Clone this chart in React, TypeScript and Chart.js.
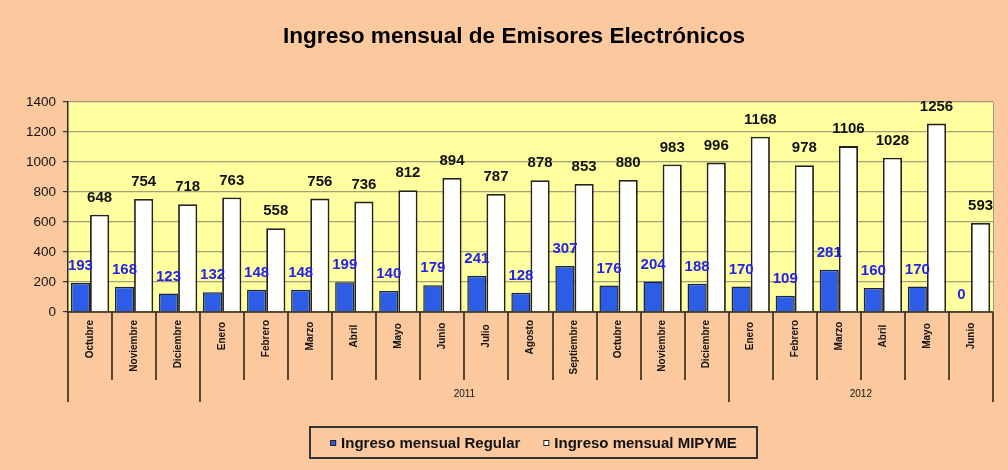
import { useEffect, useRef } from 'react';
import { Chart, registerables } from 'chart.js';

Chart.register(...registerables);

const months = [
  'Octubre', 'Noviembre', 'Diciembre',
  'Enero', 'Febrero', 'Marzo', 'Abril', 'Mayo', 'Junio', 'Julio', 'Agosto', 'Septiembre', 'Octubre', 'Noviembre', 'Diciembre',
  'Enero', 'Febrero', 'Marzo', 'Abril', 'Mayo', 'Junio',
];
const yearLabels = ['', '2011', '2012'];
const yearSpans = [3, 12, 6];
const regular = [193, 168, 123, 132, 148, 148, 199, 140, 179, 241, 128, 307, 176, 204, 188, 170, 109, 281, 160, 170, 0];
const mipyme = [648, 754, 718, 763, 558, 756, 736, 812, 894, 787, 878, 853, 880, 983, 996, 1168, 978, 1106, 1028, 1256, 593];
const seriesNames = ['Ingreso mensual Regular', 'Ingreso mensual MIPYME'];
const titleText = 'Ingreso mensual de Emisores Electrónicos';

const FONT = '"Liberation Sans", Arial, Helvetica, sans-serif';
const BG = '#FBC99D';
const PLOT = '#FFFF9F';
const BLUE = '#2D5DE6';
const LINE = '#2a2a1a';

const decor = {
  id: 'decor',
  beforeDraw(chart: any) {
    const { ctx, chartArea: a } = chart;
    ctx.save();
    ctx.fillStyle = BG;
    ctx.fillRect(0, 0, chart.width, chart.height);
    ctx.fillStyle = PLOT;
    ctx.fillRect(a.left, a.top, a.right - a.left, a.bottom - a.top);
    // title
    ctx.font = `bold 22.6px ${FONT}`;
    ctx.fillStyle = '#000';
    ctx.textAlign = 'center';
    ctx.textBaseline = 'middle';
    ctx.fillText(titleText, 514, 37);
    ctx.restore();
  },
  afterDatasetsDraw(chart: any) {
    const ctx = chart.ctx;
    ctx.save();
    ctx.textAlign = 'center';
    ctx.textBaseline = 'middle';
    chart.data.datasets.forEach((ds: any, di: number) => {
      const meta = chart.getDatasetMeta(di);
      ctx.font = `bold 15px ${FONT}`;
      ctx.fillStyle = di === 0 ? '#2424E6' : '#111111';
      meta.data.forEach((el: any, i: number) => {
        ctx.fillText(String(ds.data[i]), el.x, el.y - 17);
      });
    });
    ctx.restore();
  },
  afterDraw(chart: any) {
    const { ctx, chartArea: a } = chart;
    const xs = chart.scales.x;
    const n = chart.data.labels.length;
    ctx.save();
    // plot right border
    ctx.strokeStyle = '#9a9a80';
    ctx.lineWidth = 1;
    ctx.beginPath();
    ctx.moveTo(a.right + 0.5, a.top);
    ctx.lineTo(a.right + 0.5, a.bottom);
    ctx.stroke();
    // x axis line
    ctx.strokeStyle = LINE;
    ctx.lineWidth = 1.5;
    ctx.beginPath();
    ctx.moveTo(a.left, a.bottom);
    ctx.lineTo(a.right, a.bottom);
    ctx.stroke();

    // group boundaries
    const groupIdx: number[] = [0];
    yearSpans.forEach((s) => groupIdx.push(groupIdx[groupIdx.length - 1] + s));

    // separators
    ctx.lineWidth = 1.6;
    for (let k = 0; k <= n; k++) {
      const x = Math.round(xs.getPixelForValue(k - 0.5));
      const isGroup = groupIdx.includes(k);
      ctx.beginPath();
      ctx.moveTo(x, a.bottom);
      ctx.lineTo(x, isGroup ? 402 : 380);
      ctx.stroke();
    }

    // month labels (rotated)
    ctx.font = `bold 10px ${FONT}`;
    ctx.fillStyle = '#111';
    ctx.textAlign = 'center';
    ctx.textBaseline = 'middle';
    chart.data.labels.forEach((lab: string, i: number) => {
      const x = xs.getPixelForValue(i);
      const w = ctx.measureText(lab).width;
      const top = Math.max(320, 336 - w / 2);
      const cy = top + w / 2;
      ctx.save();
      ctx.translate(x, cy);
      ctx.rotate(-Math.PI / 2);
      ctx.fillText(lab, 0, 0);
      ctx.restore();
    });

    // year labels
    ctx.font = `10px ${FONT}`;
    yearLabels.forEach((lab, gi) => {
      if (!lab) return;
      const x0 = xs.getPixelForValue(groupIdx[gi] - 0.5);
      const x1 = xs.getPixelForValue(groupIdx[gi + 1] - 0.5);
      ctx.fillText(lab, (x0 + x1) / 2, 394);
    });

    // legend
    const bx = 310, by = 427, bw = 447, bh = 31;
    ctx.strokeStyle = '#333';
    ctx.lineWidth = 2;
    ctx.strokeRect(bx, by, bw, bh);
    ctx.font = `bold 15px ${FONT}`;
    const sq = 6, g1 = 5, g2 = 23;
    const widths = seriesNames.map((s) => ctx.measureText(s).width);
    const total = widths.reduce((p, w) => p + sq + g1 + w, 0) + g2;
    let x = bx + (bw - total) / 2;
    const cy = 443;
    const fills = [BLUE, '#ffffff'];
    seriesNames.forEach((s, i) => {
      ctx.fillStyle = fills[i];
      ctx.fillRect(x, cy - 3, sq, sq);
      ctx.strokeStyle = '#222';
      ctx.lineWidth = 1;
      ctx.strokeRect(x + 0.5, cy - 2.5, sq - 1, sq - 1);
      x += sq + g1;
      ctx.fillStyle = '#111';
      ctx.textAlign = 'left';
      ctx.fillText(s, x, cy + 1);
      x += widths[i] + g2;
    });
    ctx.restore();
  },
};

export default function App() {
  const ref = useRef<HTMLCanvasElement | null>(null);
  useEffect(() => {
    document.body.style.margin = '0';
    const canvas = ref.current;
    if (!canvas) return;
    const chart = new Chart(canvas, {
      type: 'bar',
      data: {
        labels: months,
        datasets: [
          {
            label: seriesNames[0],
            data: regular,
            backgroundColor: BLUE,
            borderColor: '#1c2440',
            borderWidth: 1.5,
            categoryPercentage: 0.87,
            barPercentage: 1.0,
          },
          {
            label: seriesNames[1],
            data: mipyme,
            backgroundColor: '#ffffff',
            borderColor: '#222222',
            borderWidth: 1.8,
            categoryPercentage: 0.87,
            barPercentage: 1.0,
          },
        ],
      },
      options: {
        responsive: false,
        animation: false,
        layout: { padding: { left: 0, right: 15, top: 102, bottom: 0 } },
        plugins: {
          title: { display: false, text: titleText },
          legend: { display: false },
          tooltip: { enabled: false },
        },
        scales: {
          x: {
            ticks: { display: false },
            grid: { display: false },
            border: { display: false },
            afterFit: (s: any) => { s.height = 158; },
          },
          y: {
            min: 0,
            max: 1400,
            ticks: {
              stepSize: 200,
              color: '#111',
              font: { family: FONT, size: 13.5 },
              padding: 7,
              callback: (v: any) => String(v),
            },
            grid: {
              color: 'rgba(130,130,105,0.75)',
              lineWidth: 1.2,
              tickLength: 5,
              tickColor: '#333',
            },
            border: { display: true, color: LINE, width: 1.5 },
            afterFit: (s: any) => { s.width = 68; },
          },
        },
      },
      plugins: [decor],
    });
    return () => chart.destroy();
  }, []);
  return (
    <div style={{ width: 1008, height: 470 }}>
      <canvas ref={ref} width={1008} height={470} style={{ display: 'block' }} />
    </div>
  );
}
